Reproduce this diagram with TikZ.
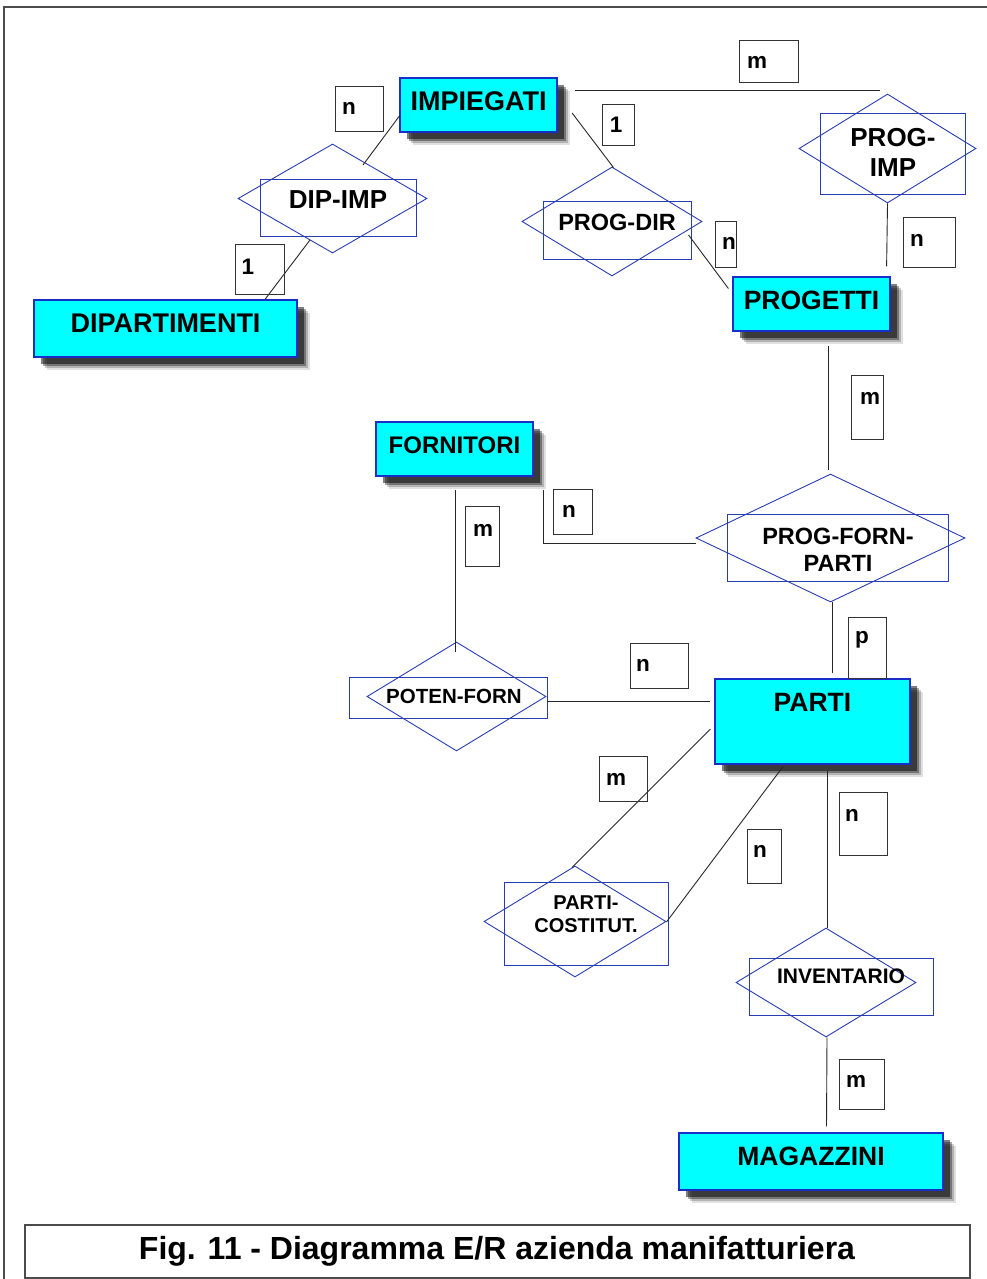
\documentclass[tikz,border=0pt]{standalone}
\usepackage{fontspec}
\setmainfont{Liberation Sans}
\usetikzlibrary{shapes.geometric,shadows,calc}
\definecolor{entblue}{RGB}{25,45,200}
\definecolor{relblue}{RGB}{40,60,180}
\definecolor{ercyan}{RGB}{0,255,255}
\tikzset{
  ent/.style={draw=entblue, line width=1.2pt, fill=ercyan, inner sep=0pt, rectangle,
    drop shadow={shadow xshift=13pt,shadow yshift=-13pt,opacity=0.12,fill=black},
    drop shadow={shadow xshift=11pt,shadow yshift=-11pt,opacity=0.2,fill=black},
    drop shadow={shadow xshift=9pt,shadow yshift=-9pt,opacity=0.35,fill=black},
    drop shadow={shadow xshift=7pt,shadow yshift=-7pt,opacity=0.5,fill=black}},
  enttext/.style={inner sep=0pt, font=\bfseries},
  reldia/.style={draw=relblue, line width=0.9pt, diamond, inner sep=0pt},
  relbox/.style={draw=relblue, line width=1pt, rectangle, inner sep=0pt},
  reltext/.style={inner sep=0pt, font=\bfseries, align=center},
  lbox/.style={draw=black!80, line width=0.9pt, rectangle, inner sep=0pt},
  ltext/.style={inner sep=0pt, font=\bfseries\fontsize{22.5}{26}\selectfont},
  conn/.style={draw=black!85, line width=0.9pt},
}
% entity: name, x1, y1, x2, y2, text, fontsize
\newcommand\erentity[7]{%
  \pgfmathsetmacro\ew{#4-#2}\pgfmathsetmacro\eh{#5-#3}%
  \pgfmathsetmacro\ex{(#2+#4)/2}\pgfmathsetmacro\ey{(#3+#5)/2}\pgfmathsetmacro\ety{#3+23}%
  \node[ent, minimum width=\ew pt, minimum height=\eh pt] (#1) at (\ex,\ey) {};
  \node[enttext, font=\bfseries\fontsize{#7}{#7}\selectfont] (#1t) at (\ex,\ety) {#6};}
% diamond: name, x1, y1, x2, y2
\newcommand\erdiamond[5]{%
  \pgfmathsetmacro\ew{#4-#2}\pgfmathsetmacro\eh{#5-#3}%
  \pgfmathsetmacro\ex{(#2+#4)/2}\pgfmathsetmacro\ey{(#3+#5)/2}%
  \node[reldia, minimum width=\ew pt, minimum height=\eh pt] (#1) at (\ex,\ey) {};}
% rect: name, x1, y1, x2, y2
\newcommand\errect[5]{%
  \pgfmathsetmacro\ew{#4-#2}\pgfmathsetmacro\eh{#5-#3}%
  \pgfmathsetmacro\ex{(#2+#4)/2}\pgfmathsetmacro\ey{(#3+#5)/2}%
  \node[relbox, minimum width=\ew pt, minimum height=\eh pt] (#1) at (\ex,\ey) {};}
% cardinality box: name, x1, y1, x2, y2, tx, ty, text
\newcommand\ercard[8]{%
  \pgfmathsetmacro\ew{#4-#2}\pgfmathsetmacro\eh{#5-#3}%
  \pgfmathsetmacro\ex{(#2+#4)/2}\pgfmathsetmacro\ey{(#3+#5)/2}%
  \node[lbox, minimum width=\ew pt, minimum height=\eh pt] (#1) at (\ex,\ey) {};
  \node[ltext] (#1t) at (#6,#7) {#8};}

\begin{document}
\begin{tikzpicture}[x=1pt,y=-1pt]
\useasboundingbox (0,0) rectangle (987,1279);
% outer frame
\draw[black!70, line width=1.2pt] (4,1290) -- (4,7) -- (995,7);

% entities
\erentity{imp}{400}{78}{557}{132}{IMPIEGATI}{27}
\erentity{dip}{34}{300}{297}{357}{DIPARTIMENTI}{27}
\erentity{prog}{733}{277}{890}{331}{PROGETTI}{26.5}
\erentity{forn}{376}{422}{533}{476}{FORNITORI}{24}
\erentity{parti}{715}{679}{910}{764}{PARTI}{26.5}
\erentity{mag}{679}{1133}{943}{1190}{MAGAZZINI}{26.5}

% relationships
\erdiamond{dipimp}{238}{144}{427}{253}
\errect{dipimpr}{260}{179}{416}{236}
\node[reltext, font=\bfseries\fontsize{26}{30}\selectfont] (dipimpt) at (338,200) {DIP-IMP};

\erdiamond{progdir}{522}{167}{702}{276}
\errect{progdirr}{543}{201}{691}{259}
\node[reltext, font=\bfseries\fontsize{23.5}{28}\selectfont] (progdirt) at (617,222) {PROG-DIR};

\erdiamond{progimp}{799}{94}{976}{203}
\errect{progimpr}{820}{114}{965}{194}
\node[reltext, font=\bfseries\fontsize{26}{30}\selectfont] (progimpt) at (893,152) {PROG-\\IMP};

\erdiamond{pfp}{696}{474}{965}{602}
\errect{pfpr}{727}{514}{948}{581}
\node[reltext, font=\bfseries\fontsize{23.5}{27}\selectfont] (pfpt) at (838,550) {PROG-FORN-\\PARTI};

\erdiamond{poten}{367}{642}{546}{751}
\errect{potenr}{349}{677}{547}{718}
\node[reltext, font=\bfseries\fontsize{20.5}{24}\selectfont] (potent) at (454,696) {POTEN-FORN};

\erdiamond{pcost}{484}{866}{666}{977}
\errect{pcostr}{504}{882}{668}{965}
\node[reltext, font=\bfseries\fontsize{20}{23}\selectfont] (pcostt) at (586,914) {PARTI-\\COSTITUT.};

\erdiamond{inv}{736}{928}{916}{1037}
\errect{invr}{749}{958}{933}{1015}
\node[reltext, font=\bfseries\fontsize{21}{24}\selectfont] (invt) at (841,976) {INVENTARIO};

% connectors
\draw[conn] ($(imp.west)+(0,11)$) -- ($(dipimp.center)+(30.5,-33.5)$);
\draw[conn] ($(dipimp.center)+(-22.5,41.5)$) -- ($(dip.north)+(99.5,0)$);
\draw[conn] ($(imp.east)+(17.5,-15)$) -- ($(progimp.center)+(-8,-58.5)$);
\draw[conn] ($(imp.east)+(14.5,8)$) -- ($(progdir.north)+(1.5,1)$);
\draw[conn] ($(progdir.center)+(76.5,13.5)$) -- ($(prog.west)+(-4,-15.5)$);
\draw[conn] (progimp.south) -- ($(prog.north east)+(-4,-10)$);
\draw[conn] ($(prog.south)+(16.5,14)$) -- ($(pfp.north)+(-2.5,-4)$);
\draw[conn] ($(forn.south east)+(10,13)$) |- ($(pfp.west)+(0,5)$);
\draw[conn] ($(forn.south)+(0.5,13)$) -- ($(poten.north)+(-1.5,10)$);
\draw[conn] ($(pfp.south)+(1.5,0)$) -- ($(parti.north)+(19.5,-5)$);
\draw[conn] ($(poten.east)+(0.5,4.5)$) -- ($(parti.west)+(-4,-20.5)$);
\draw[conn] ($(parti.west)+(-4,7.5)$) -- ($(pcost.north)+(-3,2)$);
\draw[conn] ($(parti.south)+(-29.5,2)$) -- ($(pcost.east)+(0,0.5)$);
\draw[conn] ($(parti.south)+(14.5,6)$) -- ($(inv.north)+(1,0)$);
\draw[conn] ($(inv.south)+(1,0)$) -- ($(mag.north)+(15.5,-6)$);

% cardinalities
\ercard{c1}{739}{40}{798}{82}{757}{62}{m}
\ercard{c2}{335}{86}{383}{131}{349}{108}{n}
\ercard{c3}{602}{104}{634}{145}{616}{125}{1}
\ercard{c4}{235}{244}{284}{294}{248}{267}{1}
\ercard{c5}{715}{221}{736}{267}{729}{243}{n}
\ercard{c6}{903}{217}{955}{267}{917}{240}{n}
\ercard{c7}{851}{375}{883}{439}{870}{398}{m}
\ercard{c8}{553}{489}{592}{534}{569}{511}{n}
\ercard{c9}{465}{506}{499}{566}{483}{530}{m}
\ercard{c10}{848}{617}{886}{678}{862}{640}{p}
\ercard{c11}{630}{643}{688}{688}{643}{665}{n}
\ercard{c12}{599}{756}{647}{801}{616}{779}{m}
\ercard{c13}{747}{829}{781}{883}{760}{851}{n}
\ercard{c14}{839}{792}{887}{855}{852}{815}{n}
\ercard{c15}{839}{1059}{884}{1109}{856}{1081}{m}

% caption
\node[draw=black!70, line width=1.2pt, minimum width=945pt, minimum height=53pt, inner sep=0pt] (capbox) at (497.5,1251.5) {};
\node[inner sep=0pt, font=\bfseries\fontsize{32}{36}\selectfont] (caption) at (497,1251) {Fig. 11 - Diagramma E/R azienda manifatturiera};
\end{tikzpicture}
\end{document}
